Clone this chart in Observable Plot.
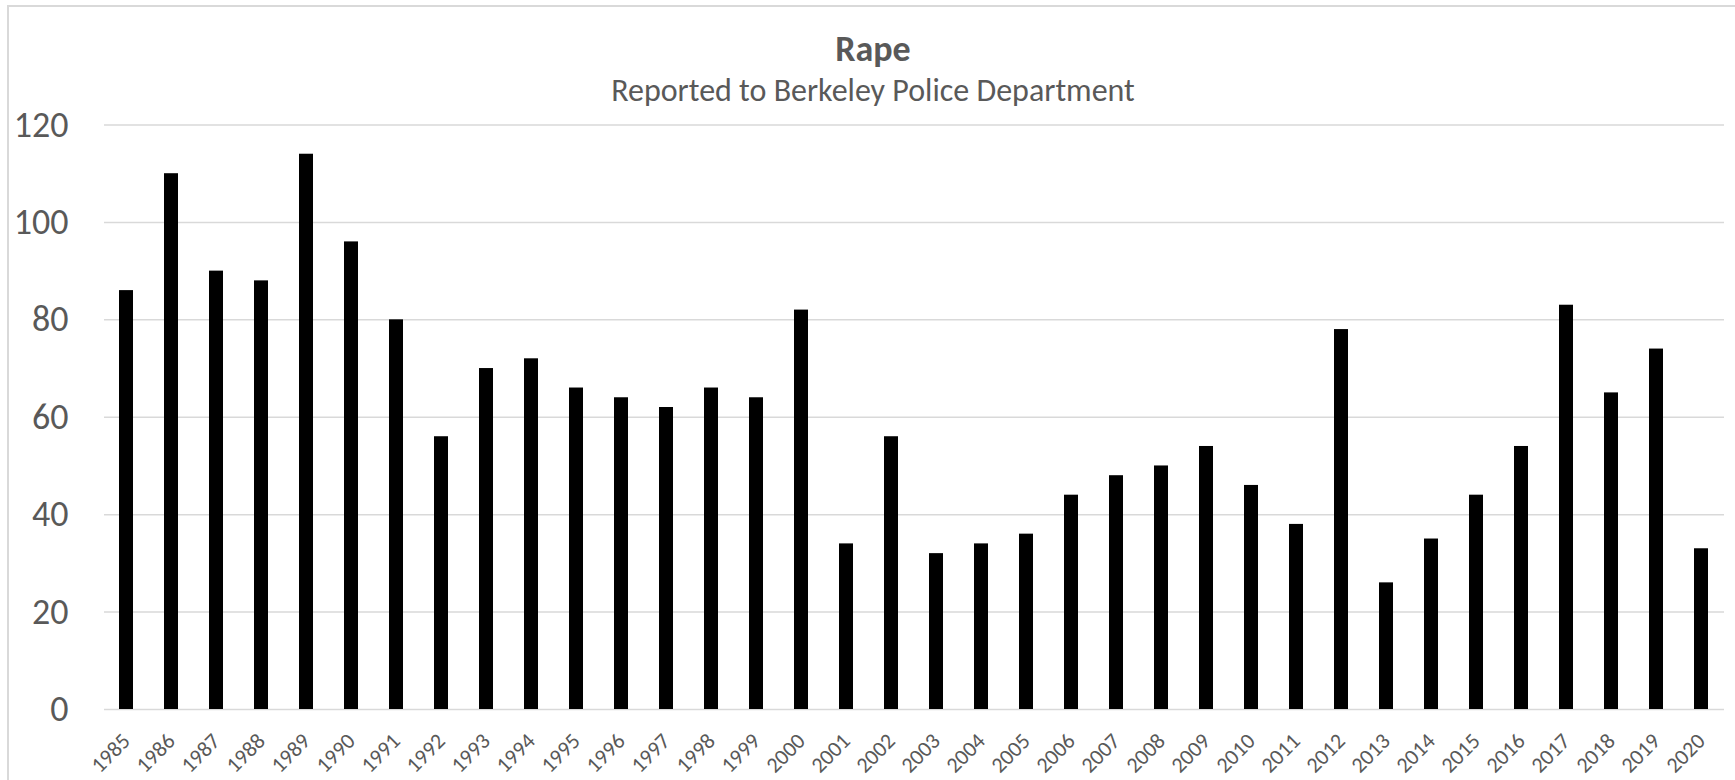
<!DOCTYPE html>
<html>
<head>
<meta charset="utf-8">
<script src="https://cdn.jsdelivr.net/npm/d3@7"></script>
<script src="https://cdn.jsdelivr.net/npm/@observablehq/plot@0.6"></script>
<style>
  html, body { margin: 0; padding: 0; background: #fff; overflow: hidden; width: 1735px; height: 780px; }
  #frame { position: absolute; left: 7px; top: 5px; width: 1760px; height: 800px; border-left: 2px solid #d9d9d9; border-top: 2px solid #d9d9d9; box-sizing: border-box; }
  .t { position: absolute; left: 7px; width: 1732px; text-align: center; color: #595959; font-family: Calibri, Carlito, "Open Sans", sans-serif; white-space: nowrap; }
  #title { top: 31px; font-size: 36px; line-height: 36px; font-weight: bold; }
  #subtitle { top: 75px; font-size: 32px; line-height: 32px; }
  #chart { position: absolute; left: 0; top: 90px; }
</style>
</head>
<body>
<div id="frame"></div>
<div class="t" id="title">Rape</div>
<div class="t" id="subtitle">Reported to Berkeley Police Department</div>
<div id="chart"></div>
<script>
const years = ["1985","1986","1987","1988","1989","1990","1991","1992","1993","1994","1995","1996","1997","1998","1999","2000","2001","2002","2003","2004","2005","2006","2007","2008","2009","2010","2011","2012","2013","2014","2015","2016","2017","2018","2019","2020"];
const counts = [86,110,90,88,114,96,80,56,70,72,66,64,62,66,64,82,34,56,32,34,36,44,48,50,54,46,38,78,26,35,44,54,83,65,74,33];
const yTicks = [0,20,40,60,80,100,120];

const data = years.map((y, i) => ({year: y, value: counts[i]}));

const chart = Plot.plot({
  width: 1735,
  height: 690,
  marginTop: 34.5,
  marginBottom: 71,
  marginLeft: 104,
  marginRight: 11,
  style: { fontFamily: 'Calibri, Carlito, "Open Sans", sans-serif', color: "#595959", background: "transparent", overflow: "visible" },
  x: { type: "band", domain: years, paddingInner: 0.68, paddingOuter: 0.34, label: null },
  y: { domain: [0, 120], label: null },
  marks: [
    Plot.gridY(yTicks, { stroke: "#d9d9d9", strokeOpacity: 1, strokeWidth: 1.5 }),
    Plot.barY(data, { x: "year", y: "value", fill: "#000" }),
    Plot.axisY(yTicks, { tickSize: 0, tickPadding: 36, fontSize: 36, fill: "#595959", label: null }),
    Plot.axisX({ tickSize: 0, tickPadding: 28, tickRotate: -45, fontSize: 22, fill: "#595959", label: null })
  ]
});
document.getElementById("chart").appendChild(chart);
</script>
</body>
</html>
